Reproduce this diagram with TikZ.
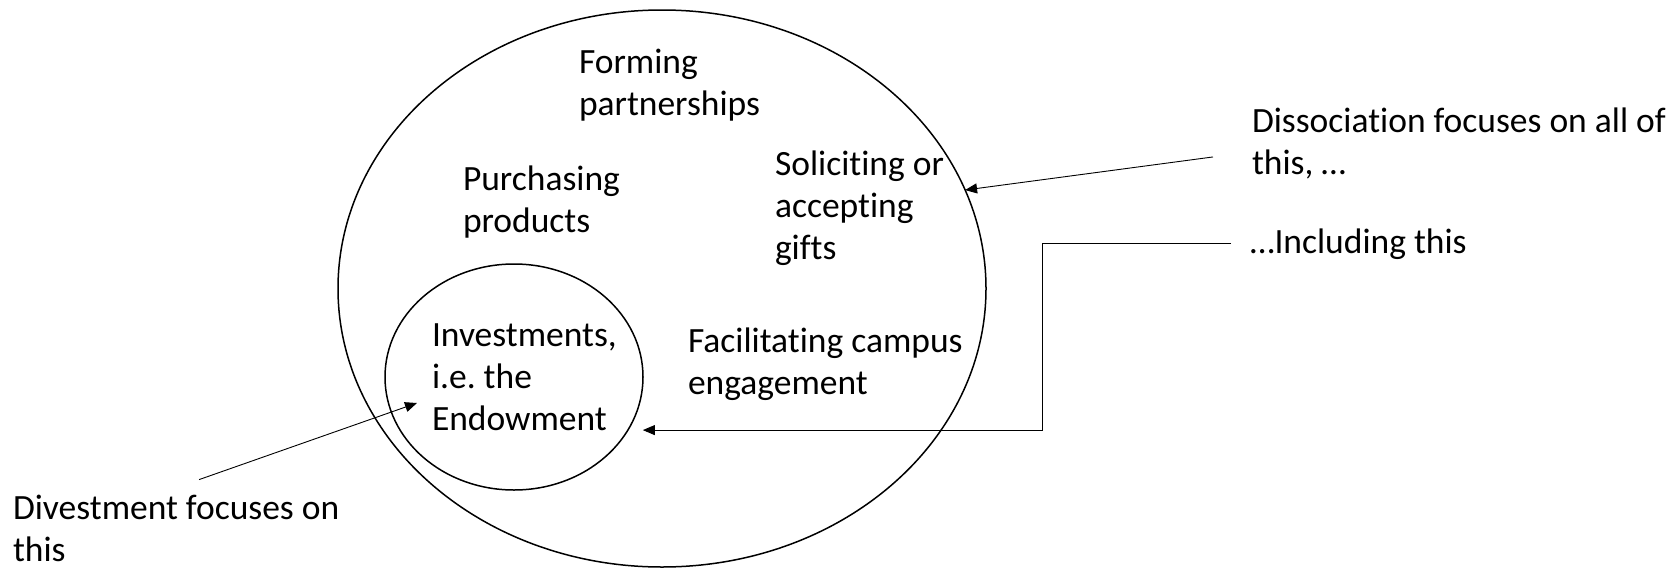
\documentclass[tikz,border=0pt]{standalone}
\usepackage{fontspec}
\setmainfont{Carlito}[RawFeature={-liga}]
\usetikzlibrary{shapes.geometric,arrows.meta}
\frenchspacing

\begin{document}
\begin{tikzpicture}[x=1pt,y=-1pt]
\tikzstyle{every node}+=[inner sep=0pt,outer sep=0pt]
\tikzstyle{label}=[anchor=base west,align=left,font=\fontsize{35.5}{42}\selectfont]
\tikzstyle{ring}=[draw=black,ellipse,line width=1.5pt]
\tikzstyle{arr}=[black,line width=0.9pt,-{Triangle[length=12pt,width=10pt]}]
\fill [white] (0,0) rectangle (1679,568);
\useasboundingbox (0,0) rectangle (1679,568);
\node [ring,minimum width=648,minimum height=557] (outer) at (662,288.5) {};
\node [ring,minimum width=258,minimum height=226] (inner) at (514,377) {};
\node [label] (forming) at (579,115) {Forming\\partnerships};
\node [label] (purchasing) at (463,232) {Purchasing\\products};
\node [label] (soliciting) at (775,259) {Soliciting or\\accepting\\gifts};
\node [label] (investments) at (432,430) {Investments,\\i.e. the\\Endowment};
\node [label] (facilitating) at (688,394) {Facilitating campus\\engagement};
\node [label] (dissociation) at (1252,174) {Dissociation focuses on all of\\this, \dots};
\node [label] (including) at (1250,253) {\dots Including this};
\node [label] (divestment) at (13,561) {Divestment focuses on\\this};
\draw [arr] ([shift={(-39,14)}]dissociation.west) -- (outer.18);
\draw [arr] ([xshift=-19pt]including.west) -- ++(-189,0) |- ([xshift=15pt]inner.-25);
\draw [arr] ([shift={(23,-15)}]divestment.north) -- ([shift={(32,26)}]inner.west);
\end{tikzpicture}
\end{document}
